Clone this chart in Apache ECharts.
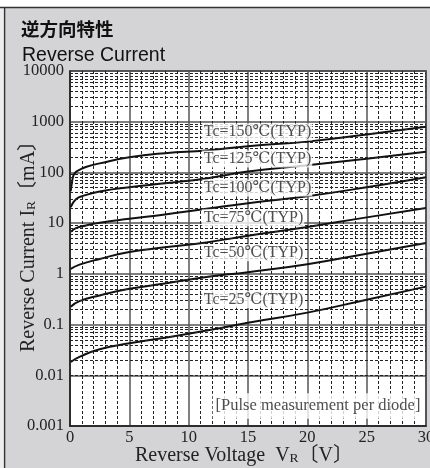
<!DOCTYPE html>
<html>
<head>
<meta charset="utf-8">
<script src="https://cdn.jsdelivr.net/npm/echarts@6/dist/echarts.min.js"></script>
<style>
  html, body { margin: 0; padding: 0; background: #d4d4d6; }
  #chart { width: 430px; height: 468px; }
</style>
</head>
<body>
<div id="chart"></div>
<script>
// Reverse current vs. reverse voltage, one curve per case temperature
const SERIF = "'Liberation Serif','DejaVu Serif','Noto Sans CJK JP',serif";

const temperatures = ['150', '125', '100', '75', '50', '25'];

// [reverse voltage V, reverse current mA]
const curve150 = [[0.06, 43], [0.14, 58], [0.28, 86], [0.45, 100], [0.8, 112], [1.4, 129], [2.5, 151],
                  [5, 199], [8, 240], [11.5, 272], [15, 330], [20, 405], [25, 560], [30, 793]];
const curve125 = [[0.06, 20.7], [0.5, 29.5], [1.1, 34.5], [2.5, 42], [5, 51], [8, 61], [11.5, 76],
                  [15, 104], [20, 138], [25, 187], [30, 256]];
const curve100 = [[0.06, 6.7], [0.5, 8.0], [1.35, 9.0], [2.5, 10.2], [5, 12.2], [8, 14.8], [11.5, 19.2],
                  [15, 24.8], [20, 34], [25, 51], [30, 80.6]];
const curve75 = [[0.06, 1.25], [0.8, 1.52], [2.5, 1.97], [5, 2.7], [8, 3.33], [11.5, 4.17],
                 [15, 5.65], [20, 8.4], [25, 13.0], [30, 19.8]];
const curve50 = [[0.06, 0.225], [0.8, 0.29], [2.5, 0.375], [5, 0.507], [8, 0.645], [11.5, 0.87],
                 [15, 1.08], [20, 1.55], [25, 2.5], [30, 4.06]];
const curve25 = [[0.06, 0.0183], [0.84, 0.0233], [2.5, 0.0326], [5, 0.0427], [8, 0.055], [12, 0.08],
                 [15, 0.109], [20, 0.172], [25, 0.31], [30, 0.56]];
const curves = [curve150, curve125, curve100, curve75, curve50, curve25];

// Where each temperature tag sits (voltage of its left edge, current of its middle)
const tagVoltage = 11.1;
const tagCurrents = [625, 184, 49.5, 12.8, 2.62, 0.313];

const noteText = '[Pulse measurement per diode]';
const notePoint = [20.9, 0.00247];

const yTickLabels = ['0.001', '0.01', '0.1', '1', '10', '100', '1000', '10000'];
const decades = [0.001, 0.01, 0.1, 1, 10, 100, 1000];

// Dashed log-minor gridlines at 2..9 inside every decade
const minorLevels = [];
decades.forEach(d => { for (let k = 2; k <= 9; k++) minorLevels.push(+(d * k).toPrecision(3)); });

const chart = echarts.init(document.getElementById('chart'), null, { renderer: 'canvas' });

chart.setOption({
  animation: false,
  backgroundColor: '#d4d4d6',
  title: [
    { text: '逆方向特性', left: 16, top: 15,
      textStyle: { fontFamily: "'Noto Sans CJK JP'", fontWeight: 'bold', fontSize: 18.5, color: '#111' } },
    { text: 'Reverse Current', left: 17, top: 41,
      textStyle: { fontFamily: "'Liberation Sans',Arial,sans-serif", fontWeight: 'normal', fontSize: 19.5, color: '#111' } }
  ],
  graphic: [
    { type: 'rect', shape: { x: 0, y: 0, width: 430, height: 7 }, style: { fill: '#ffffff' }, silent: true },
    { type: 'rect', shape: { x: 0, y: 7, width: 4, height: 461 }, style: { fill: '#ededed' }, silent: true },
    { type: 'line', shape: { x1: 0, y1: 7.5, x2: 430, y2: 7.5 }, style: { stroke: '#333', lineWidth: 1.4 }, silent: true },
    { type: 'line', shape: { x1: 4.6, y1: 7, x2: 4.6, y2: 468 }, style: { stroke: '#333', lineWidth: 1.4 }, silent: true }
  ],
  grid: {
    left: 70, right: 4, top: 71, bottom: 42,
    show: true, backgroundColor: '#ffffff', borderColor: '#222', borderWidth: 1.5,
    containLabel: false, outerBoundsMode: 'none'
  },
  xAxis: {
    type: 'value', min: 0, max: 30, interval: 5,
    name: 'Reverse Voltage  V{s|R}〔V〕',
    nameLocation: 'middle', nameGap: 20, nameMoveOverlap: false,
    nameTextStyle: {
      fontFamily: SERIF, fontSize: 20, color: '#222', padding: [0, 8, 0, 0],
      rich: { s: { fontFamily: SERIF, fontSize: 13.5, color: '#222', verticalAlign: 'bottom', padding: [0, 0, 1, 0] } }
    },
    axisLine: { show: true, lineStyle: { color: '#222', width: 1.5 } },
    axisTick: { show: false },
    minorTick: { show: false, splitNumber: 5 },
    axisLabel: { fontFamily: SERIF, fontSize: 16.5, color: '#222', margin: 3 },
    splitLine: { show: true, lineStyle: { color: '#555', width: 1.5 } },
    minorSplitLine: { show: true, lineStyle: { color: '#222', width: 1, type: [3, 2] } }
  },
  yAxis: {
    type: 'log', logBase: 10, min: 0.001, max: 10000,
    name: 'Reverse Current I{s|R}〔mA〕',
    nameLocation: 'middle', nameGap: 31, nameRotate: 90, nameMoveOverlap: false,
    nameTextStyle: {
      fontFamily: SERIF, fontSize: 20, color: '#222', padding: [0, 0, 0, 14],
      rich: { s: { fontFamily: SERIF, fontSize: 13.5, color: '#222', verticalAlign: 'bottom', padding: [0, 0, 1, 0] } }
    },
    axisLine: { show: true, lineStyle: { color: '#222', width: 1.5 } },
    axisTick: { show: false },
    axisLabel: {
      fontFamily: SERIF, fontSize: 16.5, color: '#222', margin: 6,
      formatter: v => yTickLabels[Math.round(Math.log10(v)) + 3]
    },
    splitLine: { show: true, lineStyle: { color: '#555', width: 1.5 } },
    minorSplitLine: { show: false }
  },
  series: [
    {
      type: 'line', data: [], silent: true, z: 1,
      markLine: {
        silent: true, symbol: ['none', 'none'], animation: false,
        label: { show: false },
        lineStyle: { color: '#222', width: 1, type: [3, 2] },
        emphasis: { disabled: true },
        data: minorLevels.map(v => ({ yAxis: v }))
      }
    },
    ...curves.map(d => ({
      type: 'line', data: d, smooth: 0.5,
      symbol: 'none', silent: true, z: 4,
      lineStyle: { color: '#111', width: 2 }
    })),
    {
      type: 'scatter', silent: true, z: 5, symbolSize: 0,
      data: tagCurrents.map((c, i) => ({ value: [tagVoltage, c], name: 'Tc=' + temperatures[i] + '℃(TYP)' })),
      label: {
        show: true, position: 'right', distance: 0,
        formatter: p => p.name,
        fontFamily: SERIF, fontSize: 16, color: '#222',
        backgroundColor: '#ffffff', padding: [1, 1, 0, 2]
      }
    },
    {
      type: 'scatter', silent: true, z: 5, symbolSize: 0,
      data: [{ value: notePoint, name: noteText }],
      label: {
        show: true, position: 'inside',
        formatter: p => p.name,
        fontFamily: SERIF, fontSize: 16.5, color: '#222',
        backgroundColor: '#ffffff', padding: [5, 3, 4, 3]
      }
    }
  ]
});
</script>
</body>
</html>
